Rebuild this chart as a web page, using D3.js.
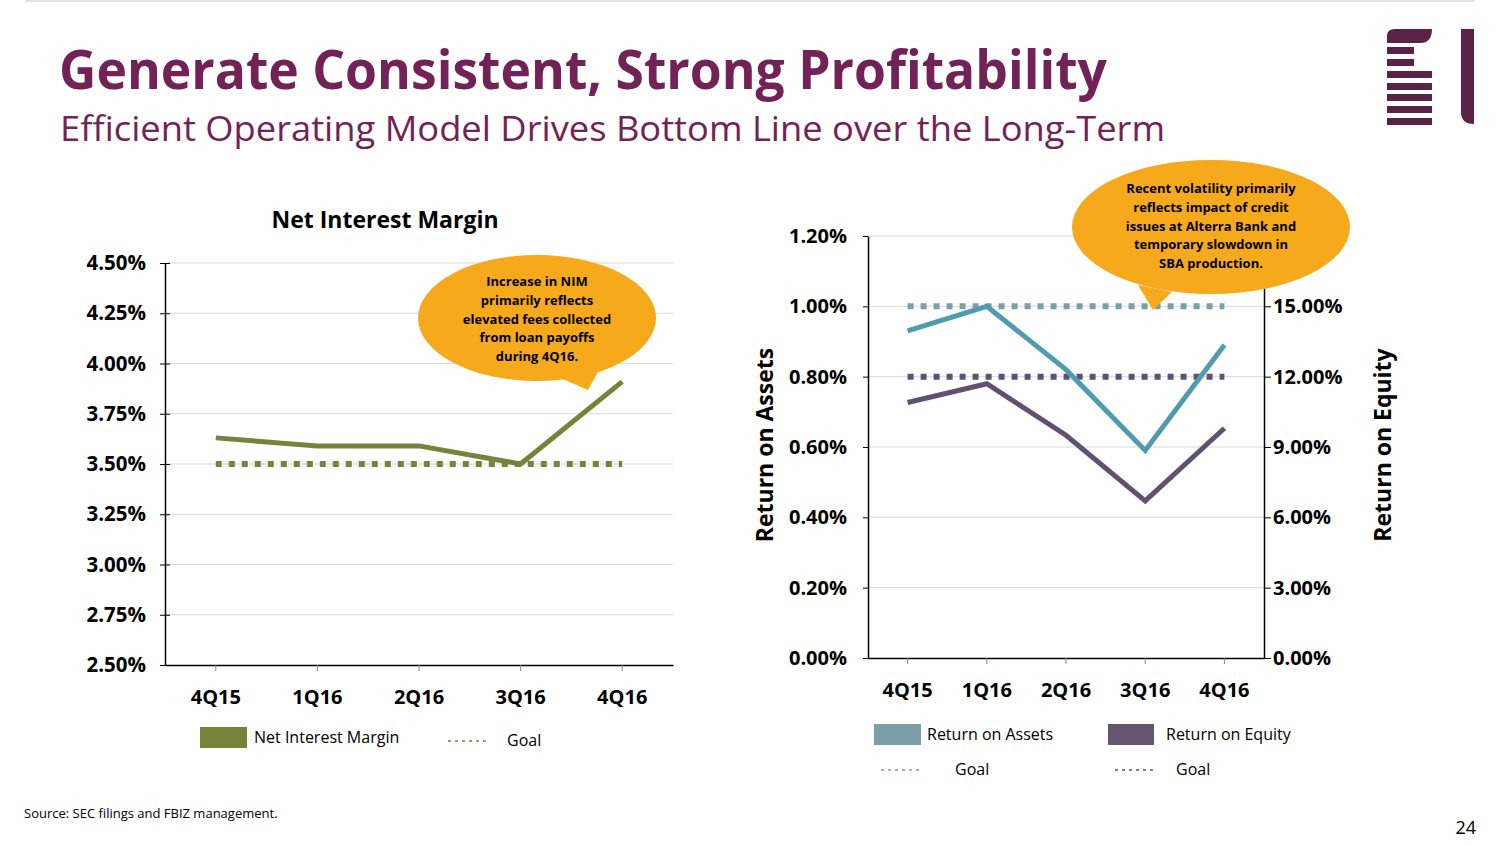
<!DOCTYPE html>
<html><head><meta charset="utf-8">
<script src="https://cdn.jsdelivr.net/npm/d3@7"></script>
<style>
body{margin:0;background:#fff;}
svg{display:block;font-family:"Open Sans",sans-serif;}
</style></head>
<body>
<svg id="c" width="1504" height="846"></svg>
<script>
const quarters = ["4Q15","1Q16","2Q16","3Q16","4Q16"];
const nimValues = [3.63, 3.59, 3.59, 3.50, 3.91];
const nimGoal = [3.50, 3.50, 3.50, 3.50, 3.50];
const nimTicks = [2.50, 2.75, 3.00, 3.25, 3.50, 3.75, 4.00, 4.25, 4.50];
const roaValues = [0.93, 1.00, 0.82, 0.59, 0.89];
const roaGoal = [1.00, 1.00, 1.00, 1.00, 1.00];
const roeValues = [10.9, 11.7, 9.5, 6.7, 9.8];
const roeGoal = [12.0, 12.0, 12.0, 12.0, 12.0];
const roaTicks = [0, 0.2, 0.4, 0.6, 0.8, 1.0, 1.2];
const roeTicks = [0, 3, 6, 9, 12, 15];

const C = {
  purple:"#722257", logo:"#5b2248", nim:"#76843a", roa:"#519bb0", roaGoal:"#7c9ea8",
  roe:"#605172", roeLeg:"#655570", callout:"#f6a91b", grid:"#d9d9d9"
};
const svg = d3.select("#c");

svg.append("line").attr("x1",25).attr("x2",1475).attr("y1",1).attr("y2",1).attr("stroke","#d8d8e0").attr("stroke-width",1.5);

svg.append("text").attr("x",59).attr("y",89).attr("fill",C.purple).attr("font-weight",700)
  .attr("font-size",53).attr("textLength",1048).attr("lengthAdjust","spacingAndGlyphs")
  .text("Generate Consistent, Strong Profitability");
svg.append("text").attr("x",60).attr("y",141).attr("fill",C.purple).attr("font-size",35)
  .attr("textLength",1105).attr("lengthAdjust","spacingAndGlyphs")
  .text("Efficient Operating Model Drives Bottom Line over the Long-Term");

const lg = svg.append("g").attr("fill",C.logo);
lg.append("path").attr("d","M1387,43 L1387,36 Q1387,29 1395,29 L1432,29 Q1432,43 1420,43 Z");
[[47,1414],[59,1414],[71,1432],[83,1432],[94,1432],[106,1432],[118,1432]].forEach(([y,x2])=>{
  lg.append("rect").attr("x",1387).attr("y",y).attr("width",x2-1387).attr("height",7);
});
lg.append("path").attr("d","M1461,29 L1474,29 L1474,124 Q1461,124 1461,112 Z");

svg.append("text").attr("x",24).attr("y",818).attr("font-size",13).attr("fill","#000").text("Source: SEC filings and FBIZ management.");
svg.append("text").attr("x",1476).attr("y",834).attr("font-size",18).attr("text-anchor","end").attr("fill","#000").text("24");

const pct = d => d.toFixed(2) + "%";
function styleTicks(sel, size){
  sel.selectAll("text").attr("font-size",size).attr("font-weight",700).attr("font-family","Open Sans").attr("fill","#000");
}

// ---------- LEFT CHART ----------
{
  const x = d3.scaleBand().domain(quarters).range([165,673]);
  const y = d3.scaleLinear().domain([2.5,4.5]).range([665,263]);
  const g = svg.append("g");
  g.append("text").attr("x",385).attr("y",228).attr("text-anchor","middle").attr("font-weight",700)
    .attr("font-size",23).text("Net Interest Margin");
  g.selectAll(".gl").data(nimTicks.slice(1)).join("line")
    .attr("x1",165).attr("x2",673).attr("y1",d=>y(d)).attr("y2",d=>y(d)).attr("stroke",C.grid).attr("stroke-width",1);
  const ya = g.append("g").attr("transform","translate(165,0)")
    .call(d3.axisLeft(y).tickValues(nimTicks).tickFormat(pct).tickSizeInner(5).tickSizeOuter(0).tickPadding(14));
  ya.select(".domain").attr("stroke","#000").attr("stroke-width",1.5);
  ya.selectAll(".tick line").attr("stroke","#000").attr("x2",-5).attr("x1",5);
  styleTicks(ya, 20.5);
  const xa = g.append("g").attr("transform","translate(0,665)")
    .call(d3.axisBottom(x).tickSizeInner(6).tickSizeOuter(0).tickPadding(19));
  xa.select(".domain").attr("stroke","#000").attr("stroke-width",1.5);
  xa.selectAll(".tick line").attr("stroke","#888");
  styleTicks(xa, 20);
  const cx = d => x(d) + x.bandwidth()/2;
  const line = d3.line().x((d,i)=>cx(quarters[i])).y(d=>y(d));
  g.append("path").datum(nimGoal).attr("d",line).attr("fill","none").attr("stroke",C.nim)
    .attr("stroke-width",6).attr("stroke-dasharray","6,7");
  g.append("path").datum(nimValues).attr("d",line).attr("fill","none").attr("stroke",C.nim).attr("stroke-width",5);
  g.append("rect").attr("x",200).attr("y",727).attr("width",47).attr("height",21).attr("fill",C.nim);
  g.append("text").attr("x",254).attr("y",743).attr("font-size",16).text("Net Interest Margin");
  g.append("line").attr("x1",448).attr("x2",488).attr("y1",741).attr("y2",741).attr("stroke",C.nim).attr("stroke-width",1.3).attr("stroke-dasharray","3,4");
  g.append("text").attr("x",507).attr("y",746).attr("font-size",16).text("Goal");
  callout(537,318,119,63,[[556,376],[588,390],[600,368]],
    ["Increase in NIM","primarily reflects","elevated fees collected","from loan payoffs","during 4Q16."],286);
}

// ---------- RIGHT CHART ----------
{
  const x = d3.scaleBand().domain(quarters).range([868,1264]);
  const y = d3.scaleLinear().domain([0,1.2]).range([658,236]);
  const y2 = d3.scaleLinear().domain([0,18]).range([658,236]);
  const g = svg.append("g");
  g.selectAll(".gl").data(roaTicks.slice(1)).join("line")
    .attr("x1",868).attr("x2",1264).attr("y1",d=>y(d)).attr("y2",d=>y(d)).attr("stroke",C.grid).attr("stroke-width",1);
  const ya = g.append("g").attr("transform","translate(868,0)")
    .call(d3.axisLeft(y).tickValues(roaTicks).tickFormat(pct).tickSizeInner(5).tickSizeOuter(0).tickPadding(16));
  ya.select(".domain").attr("stroke","#000").attr("stroke-width",1.5);
  ya.selectAll(".tick line").attr("stroke","#000");
  styleTicks(ya, 20);
  const yb = g.append("g").attr("transform","translate(1264,0)")
    .call(d3.axisRight(y2).tickValues(roeTicks).tickFormat(pct).tickSizeInner(7).tickSizeOuter(0).tickPadding(2));
  yb.select(".domain").attr("stroke","#000").attr("stroke-width",1.5);
  yb.selectAll(".tick line").attr("stroke","#000");
  styleTicks(yb, 20);
  const xa = g.append("g").attr("transform","translate(0,658)")
    .call(d3.axisBottom(x).tickSizeInner(6).tickSizeOuter(0).tickPadding(19));
  xa.select(".domain").attr("stroke","#000").attr("stroke-width",1.5);
  xa.selectAll(".tick line").attr("stroke","#888");
  styleTicks(xa, 20);
  g.append("text").attr("transform","translate(773,445) rotate(-90)").attr("text-anchor","middle")
    .attr("font-size",23).attr("font-weight",700).text("Return on Assets");
  g.append("text").attr("transform","translate(1391,445) rotate(-90)").attr("text-anchor","middle")
    .attr("font-size",23).attr("font-weight",700).text("Return on Equity");
  const cx = d => x(d) + x.bandwidth()/2;
  const l1 = d3.line().x((d,i)=>cx(quarters[i])).y(d=>y(d));
  const l2 = d3.line().x((d,i)=>cx(quarters[i])).y(d=>y2(d));
  g.append("path").datum(roaGoal).attr("d",l1).attr("fill","none").attr("stroke",C.roaGoal).attr("stroke-width",6).attr("stroke-dasharray","6,7");
  g.append("path").datum(roeGoal).attr("d",l2).attr("fill","none").attr("stroke",C.roe).attr("stroke-width",6).attr("stroke-dasharray","6,7");
  g.append("path").datum(roaValues).attr("d",l1).attr("fill","none").attr("stroke",C.roa).attr("stroke-width",5);
  g.append("path").datum(roeValues).attr("d",l2).attr("fill","none").attr("stroke",C.roe).attr("stroke-width",5);
  g.append("rect").attr("x",874).attr("y",724).attr("width",47).attr("height",21).attr("fill",C.roaGoal);
  g.append("text").attr("x",927).attr("y",740).attr("font-size",16).text("Return on Assets");
  g.append("rect").attr("x",1108).attr("y",724).attr("width",46).attr("height",21).attr("fill",C.roeLeg);
  g.append("text").attr("x",1166).attr("y",740).attr("font-size",16).text("Return on Equity");
  g.append("line").attr("x1",881).attr("x2",921).attr("y1",770).attr("y2",770).attr("stroke",C.roaGoal).attr("stroke-width",1.3).attr("stroke-dasharray","3,4");
  g.append("text").attr("x",955).attr("y",775).attr("font-size",16).text("Goal");
  g.append("line").attr("x1",1115).attr("x2",1155).attr("y1",770).attr("y2",770).attr("stroke",C.roe).attr("stroke-width",1.3).attr("stroke-dasharray","3,4");
  g.append("text").attr("x",1176).attr("y",775).attr("font-size",16).text("Goal");
  callout(1211,227,139,67,[[1138,285],[1153,310],[1172,292]],
    ["Recent volatility primarily","reflects impact of credit","issues at Alterra Bank and","temporary slowdown in","SBA production."],193);
}

function callout(cx,cy,rx,ry,tail,lines,y0){
  const g = svg.append("g");
  g.append("ellipse").attr("cx",cx).attr("cy",cy).attr("rx",rx).attr("ry",ry).attr("fill",C.callout);
  g.append("path").attr("d","M"+tail.map(p=>p.join(",")).join("L")+"Z").attr("fill",C.callout);
  g.selectAll("text").data(lines).join("text").attr("x",cx).attr("y",(d,i)=>y0+i*18.8)
    .attr("text-anchor","middle").attr("font-size",13).attr("font-weight",700).attr("fill","#000").text(d=>d);
}
</script>
</body></html>
